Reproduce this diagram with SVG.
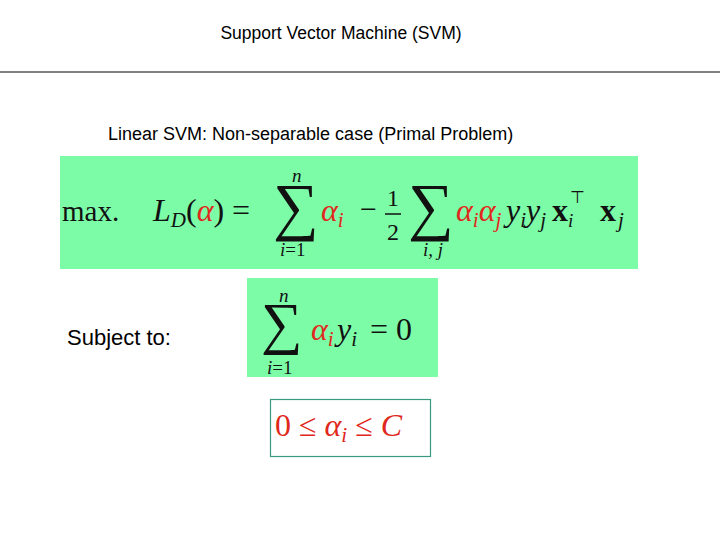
<svg xmlns="http://www.w3.org/2000/svg" width="720" height="540" viewBox="0 0 720 540">
<style>
.s{font-family:"Liberation Sans",Arial,sans-serif;fill:#000}
.m{font-family:"Liberation Serif","Times New Roman",serif;fill:#111}
.i{font-style:italic}
.r{fill:#e0281c}
.g{fill:#7dfca8}
</style>
<rect width="720" height="540" fill="#fff"/>
<text class="s" x="341" y="39" font-size="17.5" text-anchor="middle">Support Vector Machine (SVM)</text>
<line x1="0" y1="72" x2="720" y2="72" stroke="#000" stroke-width="1"/>
<text class="s" x="108" y="140" font-size="18">Linear SVM: Non-separable case (Primal Problem)</text>
<g id="objective">
<rect class="g" x="60" y="156" width="578" height="113"/>
<text class="m" x="62" y="221" font-size="29">max.</text>
<text class="m" x="153" y="221" font-size="32"><tspan class="i">L</tspan><tspan class="i" font-size="21" dy="6">D</tspan><tspan dy="-6">(</tspan><tspan class="i r">α</tspan><tspan>) =</tspan></text>
<text class="m" x="273" y="228" font-size="64">∑</text>
<text class="m i" x="292" y="182" font-size="19">n</text>
<text class="m" x="280" y="256" font-size="19"><tspan class="i">i</tspan>=1</text>
<text class="m i r" x="321" y="221" font-size="32">α<tspan font-size="21" dy="6">i</tspan></text>
<text class="m" x="360" y="219" font-size="30">−</text>
<text class="m" x="387" y="206" font-size="24">1</text>
<line x1="385" y1="214" x2="401" y2="214" stroke="#111" stroke-width="1.5"/>
<text class="m" x="387" y="240" font-size="24">2</text>
<text class="m" x="408" y="228" font-size="64">∑</text>
<text class="m i" x="423" y="256" font-size="19">i, j</text>
<text class="m i r" x="456" y="221" font-size="32">α<tspan font-size="21" dy="6">i</tspan><tspan dy="-6">α</tspan><tspan font-size="21" dy="6">j</tspan></text>
<text class="m i" x="506" y="221" font-size="32">y<tspan font-size="21" dy="6">i</tspan><tspan dy="-6">y</tspan><tspan font-size="21" dy="6">j</tspan></text>
<text class="m" x="552" y="221" font-size="32" font-weight="bold">x</text>
<text class="m i" x="568" y="227" font-size="19">i</text>
<text class="m" x="570" y="203" font-size="17">⊤</text>
<text class="m" x="600" y="221" font-size="32" font-weight="bold">x</text>
<text class="m i" x="618" y="227" font-size="21">j</text>
</g>
<text class="s" x="67" y="345" font-size="22">Subject to:</text>
<g id="constraint1">
<rect class="g" x="247" y="278" width="191" height="99"/>
<text class="m" x="261" y="343" font-size="58">∑</text>
<text class="m i" x="279" y="302" font-size="19">n</text>
<text class="m" x="267" y="374" font-size="19"><tspan class="i">i</tspan>=1</text>
<text class="m i r" x="311" y="340" font-size="32">α<tspan font-size="21" dy="6">i</tspan></text>
<text class="m i" x="337" y="340" font-size="32">y<tspan font-size="21" dy="6">i</tspan></text>
<text class="m" x="370" y="340" font-size="32">= 0</text>
</g>
<g id="constraint2">
<rect x="270.5" y="399.5" width="160" height="57" fill="#fff" stroke="#3a9a80" stroke-width="1.2"/>
<text class="m r" x="275" y="436" font-size="32">0 ≤ <tspan class="i">α</tspan><tspan class="i" font-size="21" dy="6">i</tspan><tspan dy="-6"> ≤ </tspan><tspan class="i">C</tspan></text>
</g>
</svg>
